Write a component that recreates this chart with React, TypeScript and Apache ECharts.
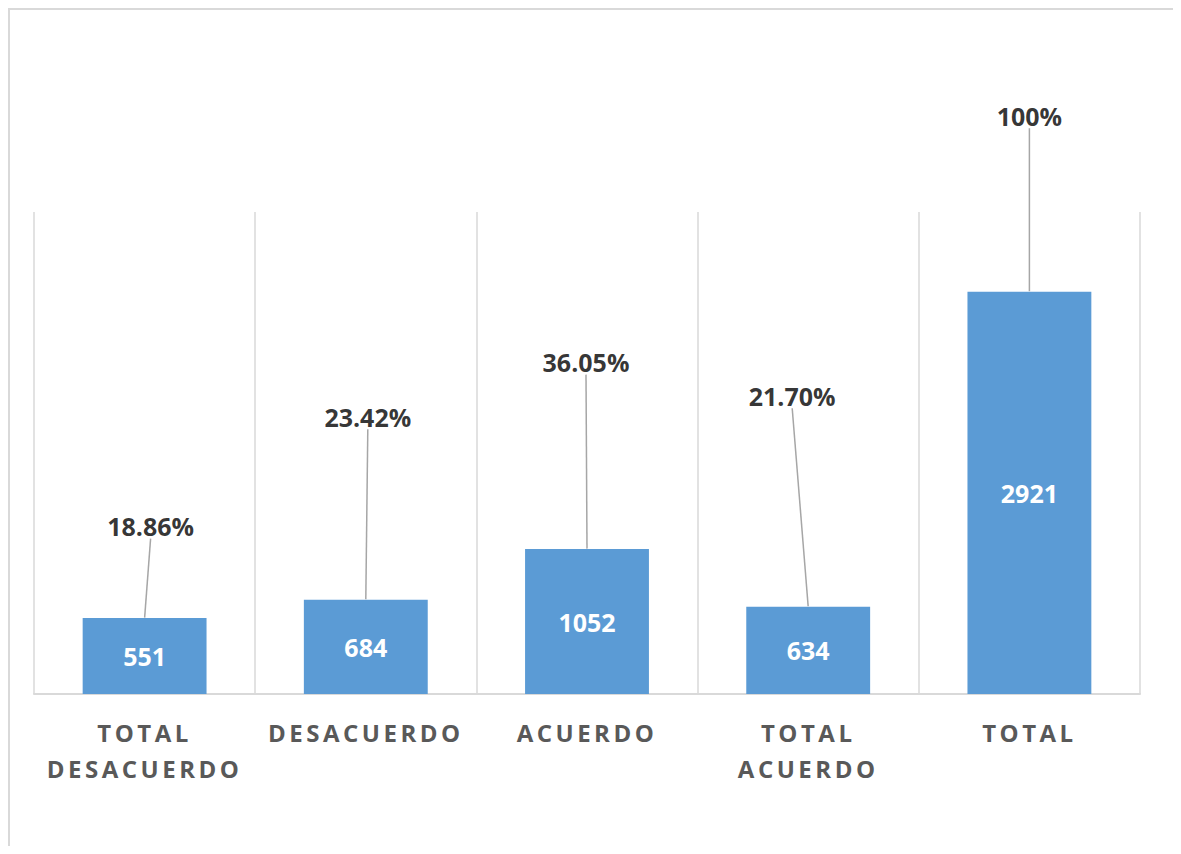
import React, { useEffect, useRef } from "react";
import * as echarts from "echarts";

const categories = ["TOTAL DESACUERDO", "DESACUERDO", "ACUERDO", "TOTAL ACUERDO", "TOTAL"];
const counts = [551, 684, 1052, 634, 2921];
const percentLabels = ["18.86%", "23.42%", "36.05%", "21.70%", "100%"];
// label offsets (px) of the percentage call-outs relative to the bar top
const labelOffsets = [
  [6, -92],
  [2, -183],
  [-1, -187],
  [-16, -211],
  [0, -176],
];

const FONT = "'Open Sans', 'Noto Sans', sans-serif";

export default function App() {
  const ref = useRef<HTMLDivElement>(null);

  useEffect(() => {
    if (!ref.current) return;
    document.documentElement.style.overflow = "hidden";
    document.body.style.overflow = "hidden";
    const chart = echarts.init(ref.current, undefined, { renderer: "svg" });
    chart.setOption({
      animation: false,
      backgroundColor: "#ffffff",
      grid: { left: 24, top: 202, width: 1106, height: 482, containLabel: false },
      xAxis: {
        type: "category",
        data: categories,
        boundaryGap: true,
        axisLine: { show: true, lineStyle: { color: "#d9d9d9", width: 2 } },
        axisTick: { show: false },
        splitLine: { show: true, lineStyle: { color: "#d9d9d9", width: 1.5 } },
        axisLabel: {
          interval: 0,
          margin: 20,
          color: "#595959",
          fontFamily: FONT,
          fontWeight: "bold",
          fontSize: 24,
          lineHeight: 36,
          verticalAlign: "top",
          formatter: (v: string) => v.split(" ").join("\n"),
        },
      },
      yAxis: {
        type: "value",
        min: 0,
        max: 3500,
        show: false,
        splitLine: { show: false },
      },
      series: [
        {
          type: "bar",
          data: counts,
          barWidth: "56%",
          itemStyle: { color: "#5b9bd5" },
          label: {
            show: true,
            position: "inside",
            color: "#ffffff",
            fontFamily: FONT,
            fontWeight: "bold",
            fontSize: 25,
          },
          z: 2,
        },
        {
          type: "scatter",
          data: counts,
          symbolSize: 1,
          itemStyle: { color: "rgba(0,0,0,0)" },
          label: {
            show: true,
            position: "inside",
            color: "#000000",
            fontFamily: FONT,
            fontWeight: "bold",
            fontSize: 25,
            formatter: (p: any) => percentLabels[p.dataIndex],
          },
          labelLine: {
            show: true,
            lineStyle: { color: "#a6a6a6", width: 1.5 },
          },
          labelLayout: (p: any) => ({
            dx: labelOffsets[p.dataIndex][0],
            dy: labelOffsets[p.dataIndex][1],
          }),
          z: 3,
        },
      ],
    });
    // letter-spaced category labels, as in the original
    const words = new Set<string>();
    categories.forEach((c) => c.split(" ").forEach((w) => words.add(w)));
    ref.current.querySelectorAll("text").forEach((t) => {
      const s = (t.textContent || "").trim();
      if (words.has(s)) {
        (t as SVGTextElement).style.letterSpacing = "3.5px";
      }
    });
    return () => chart.dispose();
  }, []);

  return (
    <div
      style={{
        width: 1171,
        height: 836,
        borderTop: "2px solid #d9d9d9",
        borderLeft: "2px solid #d9d9d9",
        overflow: "hidden",
        background: "#ffffff",
      }}
    >
      <div ref={ref} style={{ width: 1171, height: 836 }} />
    </div>
  );
}
